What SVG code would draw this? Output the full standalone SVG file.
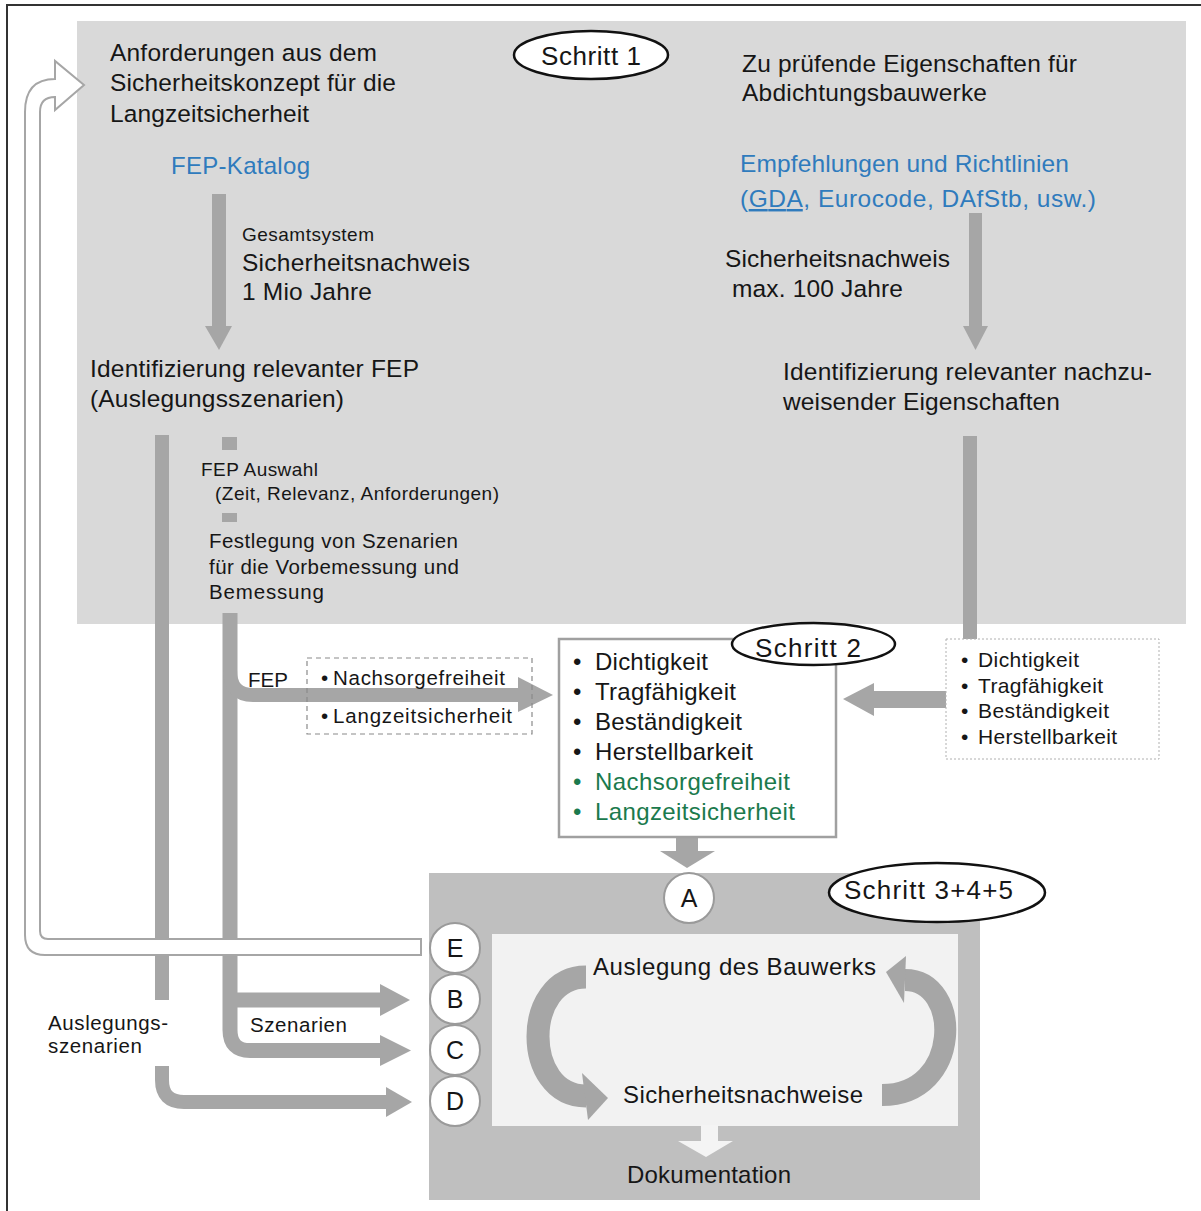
<svg xmlns="http://www.w3.org/2000/svg" width="1201" height="1211" viewBox="0 0 1201 1211">
<style>
text{font-family:"Liberation Sans",Arial,sans-serif;fill:#161616}
.f23{font-size:24.5px}
.f22{font-size:24px}
.f19{font-size:21px}
.f18{font-size:20.5px}
.f17{font-size:19px}
.f20{font-size:20.5px}
.blue{fill:#2f7bbd}
.green{fill:#1b7a4d}
.bar{fill:none;stroke:#a6a6a6}
.head{fill:#a6a6a6}
.step{fill:#fff;stroke:#111;stroke-width:2.5}
.circ{fill:#fff;stroke:#9a9a9a;stroke-width:2}
.ltr{font-size:25px;text-anchor:middle}
.stp{font-size:26px}
</style>

<!-- page border -->
<path d="M7 1211 V5 H1201" fill="none" stroke="#333" stroke-width="2"/>

<!-- Step 1 panel -->
<g id="schritt1-panel">
<rect x="77" y="21" width="1109" height="603" fill="#d9d9d9"/>
</g>

<!-- Step 3+4+5 panel -->
<g id="schritt345-panel">
<rect x="429" y="873" width="551" height="327" fill="#bfbfbf"/>
<rect x="492" y="934" width="466" height="192" fill="#f2f2f2"/>
</g>

<!-- connectors -->
<g id="connectors">
<rect x="212" y="194" width="14" height="133" fill="#a6a6a6"/>
<polygon class="head" points="205,326 232,326 219,350"/>
<rect x="969" y="213" width="13" height="114" fill="#a6a6a6"/>
<polygon class="head" points="963,326 988,326 975.5,350"/>
<rect x="963" y="436" width="14" height="203" fill="#a6a6a6"/>
<rect x="872" y="691" width="75" height="17" fill="#a6a6a6"/>
<polygon class="head" points="874,683 874,716 843,699"/>
<rect x="222" y="437" width="15" height="13" fill="#a6a6a6"/>
<rect x="222" y="513" width="15" height="9" fill="#a6a6a6"/>
<line class="bar" x1="162" y1="435" x2="162" y2="1000" stroke-width="14"/>
<path class="bar" d="M162 1066 L162 1080 Q162 1102 184 1102 L388 1102" stroke-width="14"/>
<polygon class="head" points="386,1087 412,1102 386,1117"/>
<path class="bar" d="M230 613 L230 1030 Q230 1050.5 250 1050.5 L382 1050.5" stroke-width="15"/>
<polygon class="head" points="380,1035 411,1050.5 380,1066"/>
<path class="bar" d="M237 1000 L382 1000" stroke-width="15"/>
<polygon class="head" points="380,984 410,1000 380,1016"/>
<path class="bar" d="M230 670 Q230 695 253 695 L520 695" stroke-width="14"/>
<polygon class="head" points="518,677 553,695 518,712"/>
<rect x="676" y="836" width="22" height="16" fill="#a6a6a6"/>
<polygon class="head" points="660,851 715,851 687,868"/>
<path d="M421 939 L48 939 Q40 939 40 931 L40 112 Q40 97 55 97 L55 110 L84 85 L55 61 L55 79 Q25 79 25 112 L25 935 Q25 955 45 955 L421 955 Z" fill="#fff" stroke="#a6a6a6" stroke-width="2"/>
<path class="bar" d="M586 977 C522 977 522 1096 586 1096" stroke-width="23"/>
<polygon class="head" points="582,1073 608,1098 588,1120"/>
<path class="bar" d="M882 1095 C962 1095 962 980 905 980" stroke-width="22"/>
<polygon class="head" points="906,956 886,972 904,1003"/>
<rect x="701" y="1125" width="17" height="17" fill="#f4f4f4"/>
<polygon points="678,1141 733,1141 706,1157" fill="#f4f4f4"/>
</g>

<g id="anforderungen">
<text class="f23" x="110" y="61" textLength="267">Anforderungen aus dem</text>
<text class="f23" x="110" y="91" textLength="286">Sicherheitskonzept für die</text>
<text class="f23" x="110" y="122" textLength="199">Langzeitsicherheit</text>
</g>
<g id="fep-katalog">
<text class="f22 blue" x="171" y="174" textLength="139">FEP-Katalog</text>
</g>
<g id="gesamtsystem">
<text class="f17" x="242" y="241" textLength="132">Gesamtsystem</text>
<text class="f23" x="242" y="271" textLength="228">Sicherheitsnachweis</text>
<text class="f23" x="242" y="300" textLength="130">1 Mio Jahre</text>
</g>
<g id="schritt1">
<ellipse class="step" cx="591" cy="55" rx="77" ry="24"/>
<text class="stp" x="541" y="65" textLength="100">Schritt 1</text>
</g>
<g id="eigenschaften">
<text class="f23" x="742" y="72" textLength="335">Zu prüfende Eigenschaften für</text>
<text class="f23" x="742" y="101" textLength="245">Abdichtungsbauwerke</text>
</g>
<g id="empfehlungen">
<text class="f23 blue" x="740" y="172" textLength="329">Empfehlungen und Richtlinien</text>
<text class="f23 blue" x="740" y="207" textLength="356">(<tspan text-decoration="underline">GDA</tspan>, Eurocode, DAfStb, usw.)</text>
</g>
<g id="nachweis100">
<text class="f23" x="725" y="267" textLength="225">Sicherheitsnachweis</text>
<text class="f23" x="732" y="297" textLength="171">max. 100 Jahre</text>
</g>
<g id="ident-fep">
<text class="f23" x="90" y="377" textLength="329">Identifizierung relevanter FEP</text>
<text class="f23" x="90" y="407" textLength="254">(Auslegungsszenarien)</text>
</g>
<g id="ident-eig">
<text class="f23" x="783" y="380" textLength="369">Identifizierung relevanter nachzu-</text>
<text class="f23" x="783" y="410" textLength="277">weisender Eigenschaften</text>
</g>
<g id="fep-auswahl">
<text class="f17" x="201" y="476" textLength="117">FEP Auswahl</text>
<text class="f17" x="215" y="500" textLength="284">(Zeit, Relevanz, Anforderungen)</text>
</g>
<g id="festlegung">
<text class="f20" x="209" y="548" textLength="249">Festlegung von Szenarien</text>
<text class="f20" x="209" y="574" textLength="250">für die Vorbemessung und</text>
<text class="f20" x="209" y="599" textLength="115">Bemessung</text>
</g>

<g id="fep-label">
<text class="f18" x="248" y="687" textLength="40">FEP</text>
</g>
<g id="fep-box">
<rect x="307" y="658" width="225" height="76" fill="none" stroke="#8a8a8a" stroke-width="1.2" stroke-dasharray="5 4"/>
<text class="f18" x="321" y="685">•</text>
<text class="f18" x="333" y="685" textLength="172">Nachsorgefreiheit</text>
<text class="f18" x="321" y="723">•</text>
<text class="f18" x="333" y="723" textLength="179">Langzeitsicherheit</text>
</g>

<g id="schritt2-box">
<rect x="559" y="639" width="277" height="198" fill="#fff" stroke="#a0a0a0" stroke-width="2.5"/>
<text class="f22" x="573" y="670">•</text>
<text class="f22" x="595" y="670" textLength="113">Dichtigkeit</text>
<text class="f22" x="573" y="700">•</text>
<text class="f22" x="595" y="700" textLength="141">Tragfähigkeit</text>
<text class="f22" x="573" y="730">•</text>
<text class="f22" x="595" y="730" textLength="147">Beständigkeit</text>
<text class="f22" x="573" y="760">•</text>
<text class="f22" x="595" y="760" textLength="158">Herstellbarkeit</text>
<text class="f22 green" x="573" y="790">•</text>
<text class="f22 green" x="595" y="790" textLength="195">Nachsorgefreiheit</text>
<text class="f22 green" x="573" y="820">•</text>
<text class="f22 green" x="595" y="820" textLength="200">Langzeitsicherheit</text>
</g>
<g id="schritt2">
<ellipse class="step" cx="813.5" cy="644" rx="81.5" ry="21"/>
<text class="stp" x="755" y="657" textLength="106">Schritt 2</text>
</g>

<g id="eigenschaften-box">
<rect x="946" y="639" width="213" height="120" fill="#fff" stroke="#b0b0b0" stroke-width="1" stroke-dasharray="2 2"/>
<text class="f19" x="961" y="667">•</text>
<text class="f19" x="978" y="667" textLength="101">Dichtigkeit</text>
<text class="f19" x="961" y="693">•</text>
<text class="f19" x="978" y="693" textLength="125">Tragfähigkeit</text>
<text class="f19" x="961" y="718">•</text>
<text class="f19" x="978" y="718" textLength="131">Beständigkeit</text>
<text class="f19" x="961" y="744">•</text>
<text class="f19" x="978" y="744" textLength="139">Herstellbarkeit</text>
</g>

<g id="schritt345">
<ellipse class="step" cx="937" cy="892.5" rx="108" ry="29.5"/>
<text class="stp" x="844" y="899" textLength="169">Schritt 3+4+5</text>
</g>
<g id="node-a"><circle class="circ" cx="689" cy="898" r="25"/><text class="ltr" x="689" y="907">A</text></g>
<g id="node-e"><circle class="circ" cx="455" cy="948" r="25"/><text class="ltr" x="455" y="957">E</text></g>
<g id="node-b"><circle class="circ" cx="455" cy="999" r="25"/><text class="ltr" x="455" y="1008">B</text></g>
<g id="node-c"><circle class="circ" cx="455" cy="1050" r="25"/><text class="ltr" x="455" y="1059">C</text></g>
<g id="node-d"><circle class="circ" cx="455" cy="1101" r="25"/><text class="ltr" x="455" y="1110">D</text></g>
<g id="auslegung"><text class="f22" x="593" y="975" textLength="283">Auslegung des Bauwerks</text></g>
<g id="sicherheitsnachweise"><text class="f22" x="623" y="1103" textLength="240">Sicherheitsnachweise</text></g>
<g id="dokumentation"><text class="f22" x="627" y="1183" textLength="164">Dokumentation</text></g>

<g id="auslegungsszenarien-label">
<text class="f18" x="48" y="1030" textLength="120">Auslegungs-</text>
<text class="f18" x="48" y="1053" textLength="94">szenarien</text>
</g>
<g id="szenarien-label">
<text class="f18" x="250" y="1032" textLength="97">Szenarien</text>
</g>
</svg>
